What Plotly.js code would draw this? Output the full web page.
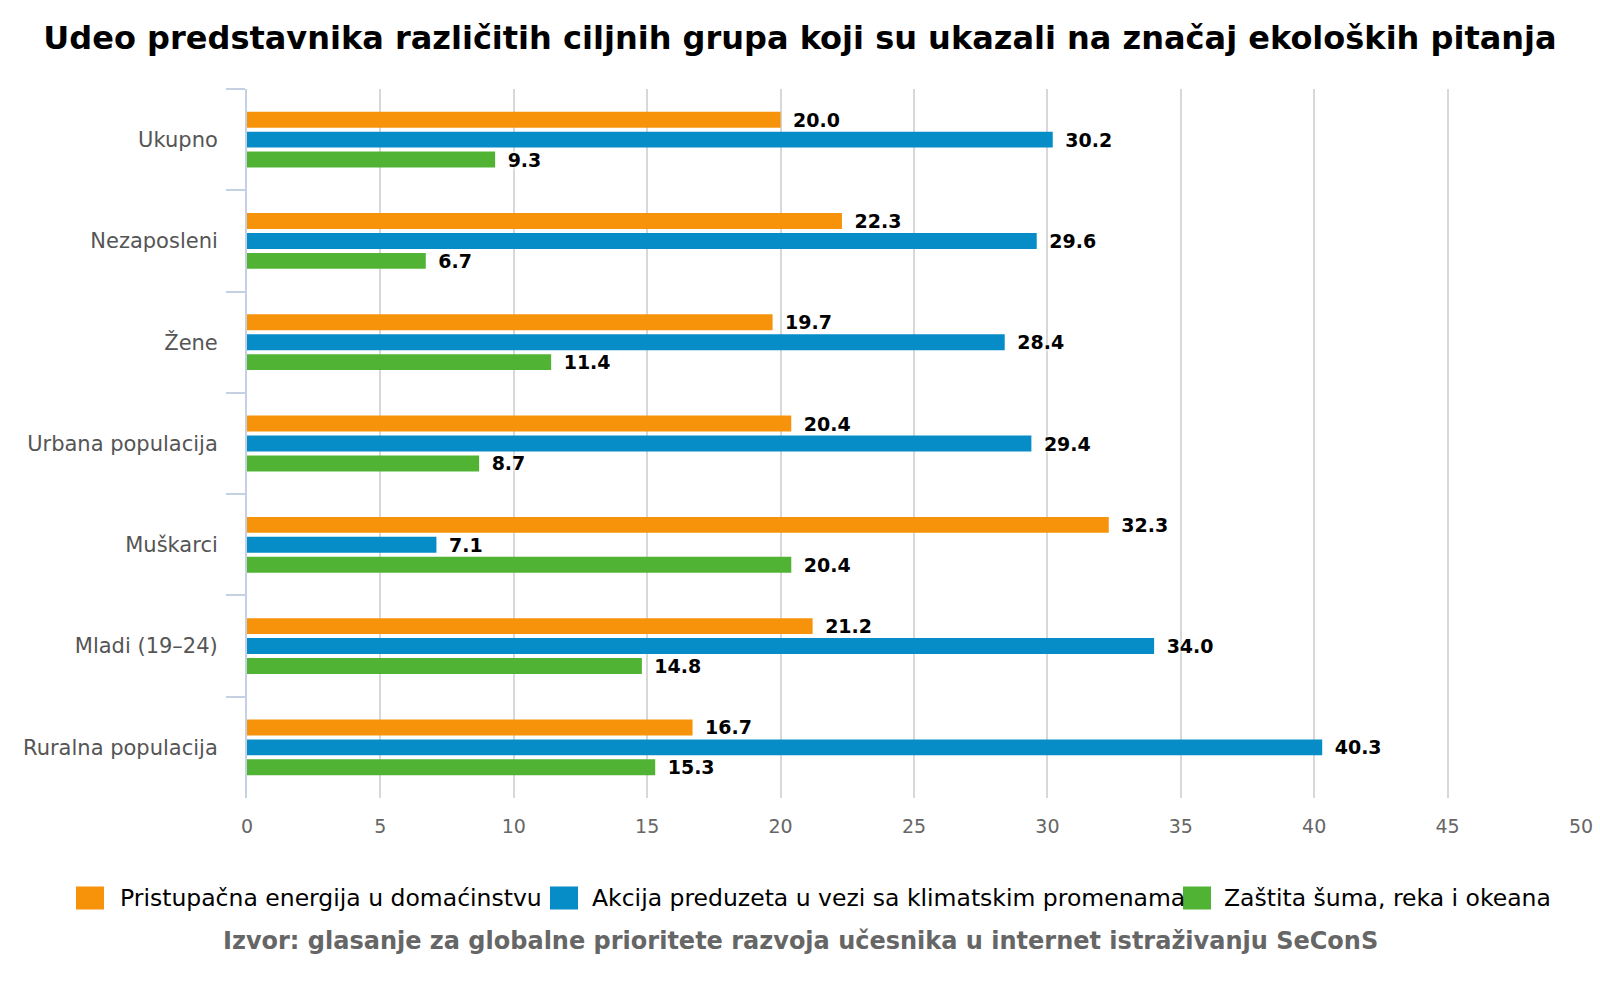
<!DOCTYPE html>
<html>
<head>
<meta charset="utf-8">
<script src="https://cdn.plot.ly/plotly-3.0.1.min.js"></script>
<style>
  html, body { margin: 0; padding: 0; background: #fff; }
  #chart { width: 1600px; height: 1000px; }
</style>
</head>
<body>
<div id="chart"></div>
<script>
// === ПОДАЦИ ===
const categories = ['Ukupno', 'Nezaposleni', 'Žene', 'Urbana populacija', 'Muškarci', 'Mladi (19–24)', 'Ruralna populacija'];
const energija = [20.0, 22.3, 19.7, 20.4, 32.3, 21.2, 16.7];
const klima = [30.2, 29.6, 28.4, 29.4, 7.1, 34.0, 40.3];
const priroda = [9.3, 6.7, 11.4, 8.7, 20.4, 14.8, 15.3];

const seriesNames = [
    'Pristupačna energija u domaćinstvu',
    'Akcija preduzeta u vezi sa klimatskim promenama',
    'Zaštita šuma, reka i okeana'
];
const seriesValues = [energija, klima, priroda];
const seriesColors = ['#F7930A', '#068DC8', '#50B333'];

const xTicks = [0, 5, 10, 15, 20, 25, 30, 35, 40, 45, 50];

// === DIMENZIJE ===
const W = 1600, H = 1000;
const M = { l: 247, r: 19, t: 89, b: 202 };
const plotW = W - M.l - M.r;
const plotH = H - M.t - M.b;
const px2x = px => (px - M.l) / plotW;
const px2y = py => (H - M.b - py) / plotH;

const FONT = '"DejaVu Sans", Verdana, sans-serif';

// === TRACES ===
const traces = seriesNames.map((name, i) => ({
    type: 'bar',
    orientation: 'h',
    name: name,
    y: categories,
    x: seriesValues[i],
    marker: { color: seriesColors[i], line: { width: 0 } },
    texttemplate: '\u2002%{x:.1f}',
    textposition: 'outside',
    constraintext: 'none',
    cliponaxis: false,
    textfont: {
        family: FONT,
        size: 19,
        weight: 'bold',
        color: '#000',
        shadow: '0px 0px 4px #fff, 0px 0px 4px #fff'
    },
    hoverinfo: 'x+y+name',
    showlegend: false
}));

// === LEGENDA (ručno, kvadrati + tekst) ===
const legendBoxX = [76, 550, 1183];
const legendTextX = [118, 590, 1222];
const legendY = 898;

const shapes = seriesNames.map((name, i) => ({
    type: 'rect',
    xref: 'paper', yref: 'paper',
    x0: px2x(legendBoxX[i]), x1: px2x(legendBoxX[i] + 28),
    y0: px2y(legendY + 11.5), y1: px2y(legendY - 11.5),
    fillcolor: seriesColors[i],
    line: { width: 0 },
    layer: 'above'
}));

const annotations = seriesNames.map((name, i) => ({
    xref: 'paper', yref: 'paper',
    x: px2x(legendTextX[i]), y: px2y(legendY),
    xanchor: 'left', yanchor: 'middle',
    text: name,
    showarrow: false,
    font: { family: FONT, size: 23.5, color: '#000' }
}));

annotations.push({
    xref: 'paper', yref: 'paper',
    x: px2x(800), y: px2y(941),
    xanchor: 'center', yanchor: 'middle',
    text: 'Izvor: glasanje za globalne prioritete razvoja učesnika u internet istraživanju SeConS',
    showarrow: false,
    font: { family: FONT, size: 24, weight: 'bold', color: '#666' }
});

const layout = {
    width: W,
    height: H,
    margin: M,
    paper_bgcolor: '#fff',
    plot_bgcolor: '#fff',
    title: {
        text: 'Udeo predstavnika različitih ciljnih grupa koji su ukazali na značaj ekoloških pitanja',
        xref: 'container', x: 0.5, xanchor: 'center',
        yref: 'container', y: 1 - 38 / H, yanchor: 'middle',
        font: { family: FONT, size: 32, weight: 'bold', color: '#000' }
    },
    barmode: 'group',
    bargap: 0.41,
    bargroupgap: 0.2,
    showlegend: false,
    xaxis: {
        range: [0, 50],
        tickvals: xTicks,
        showgrid: true,
        gridcolor: '#d8d8d8',
        gridwidth: 2,
        zeroline: false,
        showline: false,
        ticks: '',
        ticklabelstandoff: 15,
        tickfont: { family: FONT, size: 19, color: '#666' }
    },
    yaxis: {
        type: 'category',
        range: [categories.length - 0.5, -0.5],
        showgrid: false,
        zeroline: false,
        showline: true,
        linecolor: '#c3d1e2',
        linewidth: 2,
        ticks: 'outside',
        tickson: 'boundaries',
        ticklen: 19,
        tickwidth: 2,
        tickcolor: '#c3d1e2',
        ticklabelstandoff: 23,
        tickfont: { family: FONT, size: 21, color: '#555' }
    },
    shapes: shapes,
    annotations: annotations
};

Plotly.newPlot('chart', traces, layout, { displayModeBar: false, staticPlot: true });
</script>
</body>
</html>
